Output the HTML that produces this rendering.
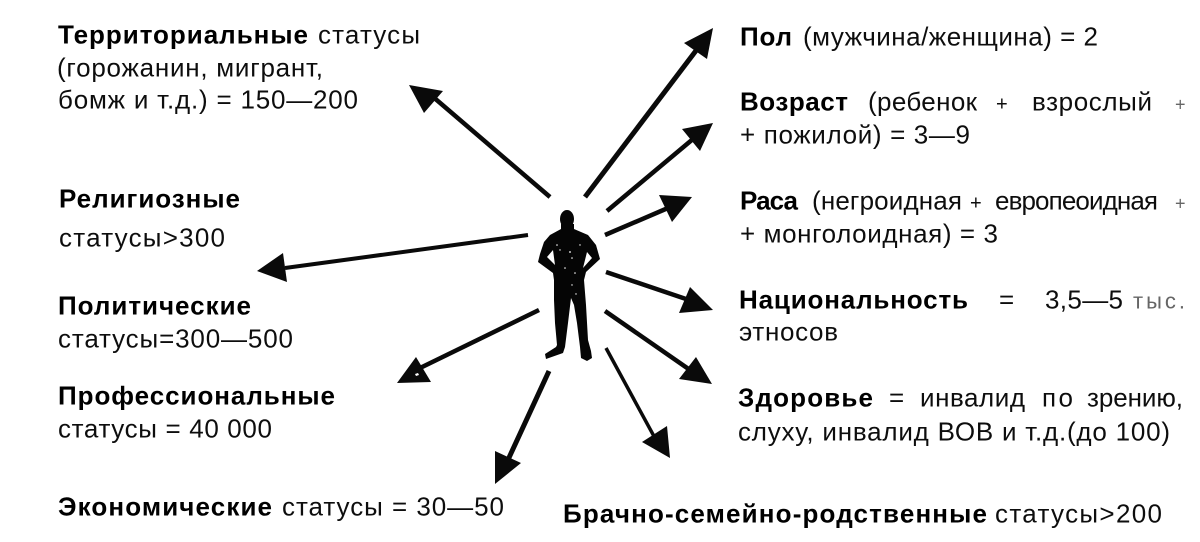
<!DOCTYPE html>
<html lang="ru"><head><meta charset="utf-8"><title>Статусы</title>
<style>
html,body{margin:0;padding:0;background:#fff;width:1200px;height:542px;overflow:hidden}
svg{display:block}
text{font-family:"Liberation Sans",sans-serif;font-size:26px;fill:#111}
.b{font-weight:bold;fill:#000}
.g{fill:#666}
</style></head><body>
<svg width="1200" height="542" viewBox="0 0 1200 542" xmlns="http://www.w3.org/2000/svg">
<defs><filter id="s" x="-2%" y="-2%" width="104%" height="104%"><feGaussianBlur stdDeviation="0.35"/></filter></defs>
<g stroke="#0a0a0a" stroke-linecap="butt" fill="none">
<path d="M550 197L432 96" stroke-width="4.5"/>
<path d="M585 197L698 48" stroke-width="5"/>
<path d="M607 211L693 139" stroke-width="4.5"/>
<path d="M605 235L668 208" stroke-width="4.5"/>
<path d="M528 235Q400 252 285 268" stroke-width="4"/>
<path d="M606 272L686 299" stroke-width="4.5"/>
<path d="M605 311L690 370" stroke-width="4.5"/>
<path d="M606 348L656 440" stroke-width="3.5"/>
<path d="M549 371L507 462" stroke-width="5"/>
<path d="M539 310L418 369" stroke-width="4.5"/>
</g>
<g fill="#0a0a0a">
<polygon points="409,85 443,91 424,113"/>
<polygon points="713,28 684,43 707,59"/>
<polygon points="713,123 682,129 700,151"/>
<polygon points="692,197 659,195 672,222"/>
<polygon points="257,271 283,253 287,282"/>
<polygon points="713,310 690,287 679,313"/>
<polygon points="712,384 696,357 679,379"/>
<polygon points="670,458 667,426 642,442"/>
<polygon points="495,484 495,451 521,463"/>
<polygon points="397,383 416,357 431,382"/>
</g>
<ellipse cx="567" cy="219" rx="7" ry="9" fill="#050505"/>
<path fill="#050505" fill-rule="evenodd" d="M561 224 L561 229 L550 235 L544 242 L540 254 L538 262 L553 273 L554 280 L554 300 L555 323 L557 345 L556 347 L545 354 L546 359 L563 353 L565 347 L568 323 L571 298 L574 305 L577 323 L580 347 L581 358 L587 361 L592 358 L591 351 L588 340 L586 305 L584 280 L586 272 L600 259 L596 245 L588 235 L574 229 L574 224 Z M553 250 L547 257 L555 265 Z M587 252 L583 268 L592 258 Z"/>
<g fill="#fff">
<circle cx="557" cy="245" r=".8"/><circle cx="570" cy="252" r=".9"/><circle cx="572" cy="258" r=".8"/><circle cx="565" cy="268" r=".8"/><circle cx="575" cy="273" r=".8"/><circle cx="572" cy="285" r=".7"/><circle cx="580" cy="245" r=".7"/><circle cx="560" cy="250" r=".7"/><circle cx="576" cy="294" r=".7"/>
<polygon points="415,374 418,373 419,375 416,376"/>
</g>
<g filter="url(#s)" transform="translate(0,0.7)">
<text x="58" y="43" class="b" textLength="250">Территориальные</text>
<text x="318" y="43" textLength="102">статусы</text>
<text x="57" y="76" textLength="266">(горожанин, мигрант,</text>
<text x="58" y="108" textLength="300">бомж и т.д.) = 150—200</text>
<text x="59" y="207" class="b" textLength="181">Религиозные</text>
<text x="59" y="246" textLength="166">статусы&gt;300</text>
<text x="58" y="314" class="b" textLength="193">Политические</text>
<text x="58" y="347" textLength="235">статусы=300—500</text>
<text x="58" y="404" class="b" textLength="277">Профессиональные</text>
<text x="58" y="437" textLength="214">статусы = 40 000</text>
<text x="58" y="515" class="b" textLength="214">Экономические</text>
<text x="282" y="515" textLength="222">статусы = 30—50</text>
<text x="563" y="522" class="b" textLength="424">Брачно-семейно-родственные</text>
<text x="995" y="522" textLength="167">статусы&gt;200</text>
<text x="740" y="45" class="b" textLength="52">Пол</text>
<text x="803" y="45" textLength="295">(мужчина/женщина) = 2</text>
<text x="740" y="110" class="b" textLength="108">Возраст</text>
<text x="868" y="110" textLength="109">(ребенок</text>
<text x="996" y="110" style="font-size:20px">+</text>
<text x="1032" y="110" textLength="120">взрослый</text>
<text x="1175" y="110" class="g" style="font-size:18px">+</text>
<text x="740" y="143" textLength="230">+ пожилой) = 3—9</text>
<text x="740" y="209" class="b" textLength="58">Раса</text>
<text x="812" y="209" textLength="150">(негроидная</text>
<text x="970" y="209" style="font-size:20px">+</text>
<text x="995" y="209" textLength="163">европеоидная</text>
<text x="1175" y="209" class="g" style="font-size:18px">+</text>
<text x="740" y="242" textLength="258">+ монголоидная) = 3</text>
<text x="739" y="308" class="b" textLength="229">Национальность</text>
<text x="999" y="308">=</text>
<text x="1045" y="308" textLength="78">3,5—5</text>
<text x="1133" y="308" class="g" textLength="52" style="font-size:22px">тыс.</text>
<text x="739" y="340" textLength="99">этносов</text>
<text x="738" y="406" class="b" textLength="135">Здоровье</text>
<text x="889" y="406">=</text>
<text x="920" y="406" textLength="105">инвалид</text>
<text x="1042" y="406" textLength="31">по</text>
<text x="1087" y="406" textLength="96">зрению,</text>
<text x="738" y="440" textLength="432">слуху, инвалид ВОВ и т.д.(до 100)</text>
</g>
</svg>
</body></html>
